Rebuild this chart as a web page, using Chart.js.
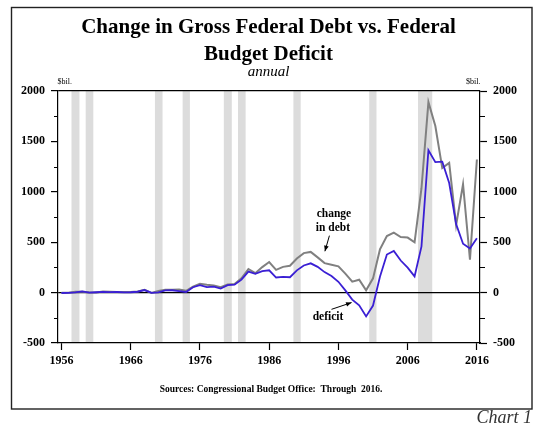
<!DOCTYPE html>
<html lang="en">
<head>
<meta charset="UTF-8">
<title>Change in Gross Federal Debt vs. Federal Budget Deficit</title>
<script src="https://cdn.jsdelivr.net/npm/chart.js"></script>
<style>
  html, body { margin: 0; padding: 0; background: #fff; }
  #wrap { position: relative; width: 553px; height: 437px; }
</style>
</head>
<body>
<div id="wrap"><canvas id="debtChart" width="553" height="437"></canvas></div>
<script>
// fiscal years, $bil.
const years = [1956, 1957, 1958, 1959, 1960, 1961, 1962, 1963, 1964, 1965,
  1966, 1967, 1968, 1969, 1970, 1971, 1972, 1973, 1974, 1975,
  1976, 1977, 1978, 1979, 1980, 1981, 1982, 1983, 1984, 1985,
  1986, 1987, 1988, 1989, 1990, 1991, 1992, 1993, 1994, 1995,
  1996, 1997, 1998, 1999, 2000, 2001, 2002, 2003, 2004, 2005,
  2006, 2007, 2008, 2009, 2010, 2011, 2012, 2013, 2014, 2015, 2016];

const deficit = [-3.9, -3.4, 2.8, 12.8, -0.3, 3.3, 7.1, 4.8, 5.9, 1.4,
  3.7, 8.6, 25.2, -3.2, 2.8, 23.0, 23.4, 14.9, 6.1, 53.2,
  73.7, 53.7, 59.2, 40.7, 73.8, 79.0, 128.0, 207.8, 185.4, 212.3,
  221.2, 149.7, 155.2, 152.6, 221.0, 269.2, 290.3, 255.1, 203.2, 164.0,
  107.4, 21.9, -69.3, -125.6, -236.2, -128.2, 157.8, 377.6, 412.7, 318.3,
  248.2, 160.7, 458.6, 1412.7, 1294.4, 1299.6, 1087.0, 679.5, 484.6, 438.5, 540];

const debtChange = [-1.7, -0.4, 7.4, 7.8, 3.0, 2.1, 10.3, 7.4, 5.8, 6.2,
  6.2, 11.9, 28.3, -2.9, 15.1, 27.3, 27.7, 30.4, 17.6, 58.0,
  87.1, 77.4, 70.2, 52.9, 79.5, 85.8, 142.5, 234.4, 192.9, 252.8,
  303.1, 225.5, 255.1, 266.7, 338.5, 391.9, 403.6, 349.2, 292.3, 277.3,
  260.9, 187.7, 109.0, 127.3, 23.2, 141.2, 428.5, 561.6, 594.7, 550.6,
  546.1, 499.3, 1035.4, 1889.8, 1652.9, 1235.4, 1286.7, 668.5, 1075.1, 325.6, 1320];

const yearTicks = [1956, 1966, 1976, 1986, 1996, 2006, 2016];
const valueTicks = [-500, 0, 500, 1000, 1500, 2000];
const minorTicks = [-250, 250, 750, 1250, 1750];

// shaded recession bands
const recessionStart = [1957.45, 1959.5, 1969.5, 1973.5, 1979.45, 1981.5, 1989.5, 2000.45, 2007.5];
const recessionEnd = [1958.6, 1960.6, 1970.6, 1974.55, 1980.6, 1982.6, 1990.55, 2001.5, 2009.55];

const serif = '"Liberation Serif", "Times New Roman", serif';
const tickFont = { family: serif, size: 12, weight: 'bold' };

const shading = {
  id: 'shading',
  beforeDraw(chart) {
    const { ctx, chartArea, scales } = chart;
    ctx.save();
    ctx.fillStyle = '#dcdcdc';
    recessionStart.forEach((s, i) => {
      const x1 = scales.x.getPixelForValue(s);
      const x2 = scales.x.getPixelForValue(recessionEnd[i]);
      ctx.fillRect(x1, chartArea.top, x2 - x1, chartArea.bottom - chartArea.top);
    });
    ctx.restore();
  }
};

function arrow(ctx, x1, y1, x2, y2) {
  const a = Math.atan2(y2 - y1, x2 - x1);
  ctx.beginPath();
  ctx.moveTo(x1, y1);
  ctx.lineTo(x2, y2);
  ctx.stroke();
  ctx.beginPath();
  ctx.moveTo(x2, y2);
  ctx.lineTo(x2 - 6 * Math.cos(a - 0.4), y2 - 6 * Math.sin(a - 0.4));
  ctx.lineTo(x2 - 6 * Math.cos(a + 0.4), y2 - 6 * Math.sin(a + 0.4));
  ctx.closePath();
  ctx.fill();
}

const decor = {
  id: 'decor',
  afterDraw(chart) {
    const { ctx, chartArea, scales } = chart;
    const X = v => scales.x.getPixelForValue(v);
    const Y = v => scales.y.getPixelForValue(v);
    ctx.save();

    // minor ticks
    ctx.strokeStyle = '#000';
    ctx.lineWidth = 1.2;
    minorTicks.forEach(v => {
      const y = Math.round(Y(v)) + 0.5;
      ctx.beginPath();
      ctx.moveTo(chartArea.left - 4, y);
      ctx.lineTo(chartArea.left, y);
      ctx.moveTo(chartArea.right, y);
      ctx.lineTo(chartArea.right + 5, y);
      ctx.stroke();
    });

    // titles
    ctx.fillStyle = '#000';
    ctx.textAlign = 'center';
    ctx.textBaseline = 'alphabetic';
    ctx.font = 'bold 21px ' + serif;
    ctx.fillText('Change in Gross Federal Debt vs. Federal', 268.5, 33);
    ctx.fillText('Budget Deficit', 268.5, 60);
    ctx.font = 'italic 15px ' + serif;
    ctx.fillText('annual', 268.5, 76);

    ctx.font = '8px ' + serif;
    ctx.textAlign = 'left';
    ctx.fillText('$bil.', 57.5, 84);
    ctx.textAlign = 'right';
    ctx.fillText('$bil.', 480.5, 84);

    ctx.textAlign = 'center';
    ctx.font = 'bold 9.5px ' + serif;
    ctx.fillText('Sources: Congressional Budget Office:  Through  2016.', 271, 391.5);

    ctx.textAlign = 'right';
    ctx.fillStyle = '#333';
    ctx.font = 'italic 18px ' + serif;
    ctx.fillText('Chart 1', 532, 423);

    // annotations
    ctx.fillStyle = '#000';
    ctx.textAlign = 'center';
    ctx.textBaseline = 'middle';
    ctx.font = 'bold 11.5px ' + serif;
    ctx.fillText('change', X(1995.35), Y(777));
    ctx.fillText('in debt', X(1995.2), Y(638));
    ctx.fillText('deficit', X(1994.5), Y(-245));
    ctx.lineWidth = 1;
    arrow(ctx, X(1994.7), Y(565), X(1994.05), Y(410));
    arrow(ctx, X(1995.0), Y(-166), X(1997.9), Y(-99));

    // frame
    ctx.strokeStyle = '#222';
    ctx.lineWidth = 1.4;
    ctx.strokeRect(11.5, 7.5, 520.5, 401.5);
    ctx.restore();
  }
};

const yGridColor = c => (c.tick && (c.tick.value === 0 || c.tick.value === 2000)) ? '#000' : 'rgba(0,0,0,0)';

new Chart(document.getElementById('debtChart'), {
  type: 'line',
  data: {
    datasets: [
      {
        label: 'deficit',
        data: years.map((yr, i) => ({ x: yr, y: deficit[i] })),
        borderColor: '#3a1fd4',
        borderWidth: 1.8,
        pointRadius: 0,
        tension: 0,
        fill: false
      },
      {
        label: 'change in debt',
        data: years.map((yr, i) => ({ x: yr, y: debtChange[i] })),
        borderColor: '#808080',
        borderWidth: 2,
        pointRadius: 0,
        tension: 0,
        fill: false
      }
    ]
  },
  options: {
    responsive: false,
    animation: false,
    layout: { padding: { top: 91, bottom: 64, left: 0, right: 0 } },
    plugins: { legend: { display: false }, tooltip: { enabled: false }, title: { display: false } },
    scales: {
      x: {
        type: 'linear',
        min: 1955.5,
        max: 2016.45,
        afterBuildTicks: s => { s.ticks = yearTicks.map(v => ({ value: v })); },
        afterFit: s => { s.height = 30; },
        grid: { drawOnChartArea: false, tickLength: 7, tickColor: '#000', tickWidth: 1.2 },
        border: { display: true, color: '#000', width: 1.2 },
        ticks: { font: tickFont, color: '#000', padding: 4, maxRotation: 0, autoSkip: false, callback: v => String(v) }
      },
      y: {
        position: 'left',
        min: -500,
        max: 2000,
        afterBuildTicks: s => { s.ticks = valueTicks.map(v => ({ value: v })); },
        afterFit: s => { s.width = 58; },
        grid: { color: yGridColor, lineWidth: 1.2, tickColor: '#000', tickLength: 7, tickWidth: 1.2 },
        border: { display: true, color: '#000', width: 1.2 },
        ticks: { font: tickFont, color: '#000', padding: 6, callback: v => String(v) }
      },
      y2: {
        position: 'right',
        min: -500,
        max: 2000,
        afterBuildTicks: s => { s.ticks = valueTicks.map(v => ({ value: v })); },
        afterFit: s => { s.width = 73; },
        grid: { drawOnChartArea: false, tickColor: '#000', tickLength: 7, tickWidth: 1.2 },
        border: { display: true, color: '#000', width: 1.2 },
        ticks: { font: tickFont, color: '#000', padding: 6, callback: v => String(v) }
      }
    }
  },
  plugins: [shading, decor]
});
</script>
</body>
</html>
